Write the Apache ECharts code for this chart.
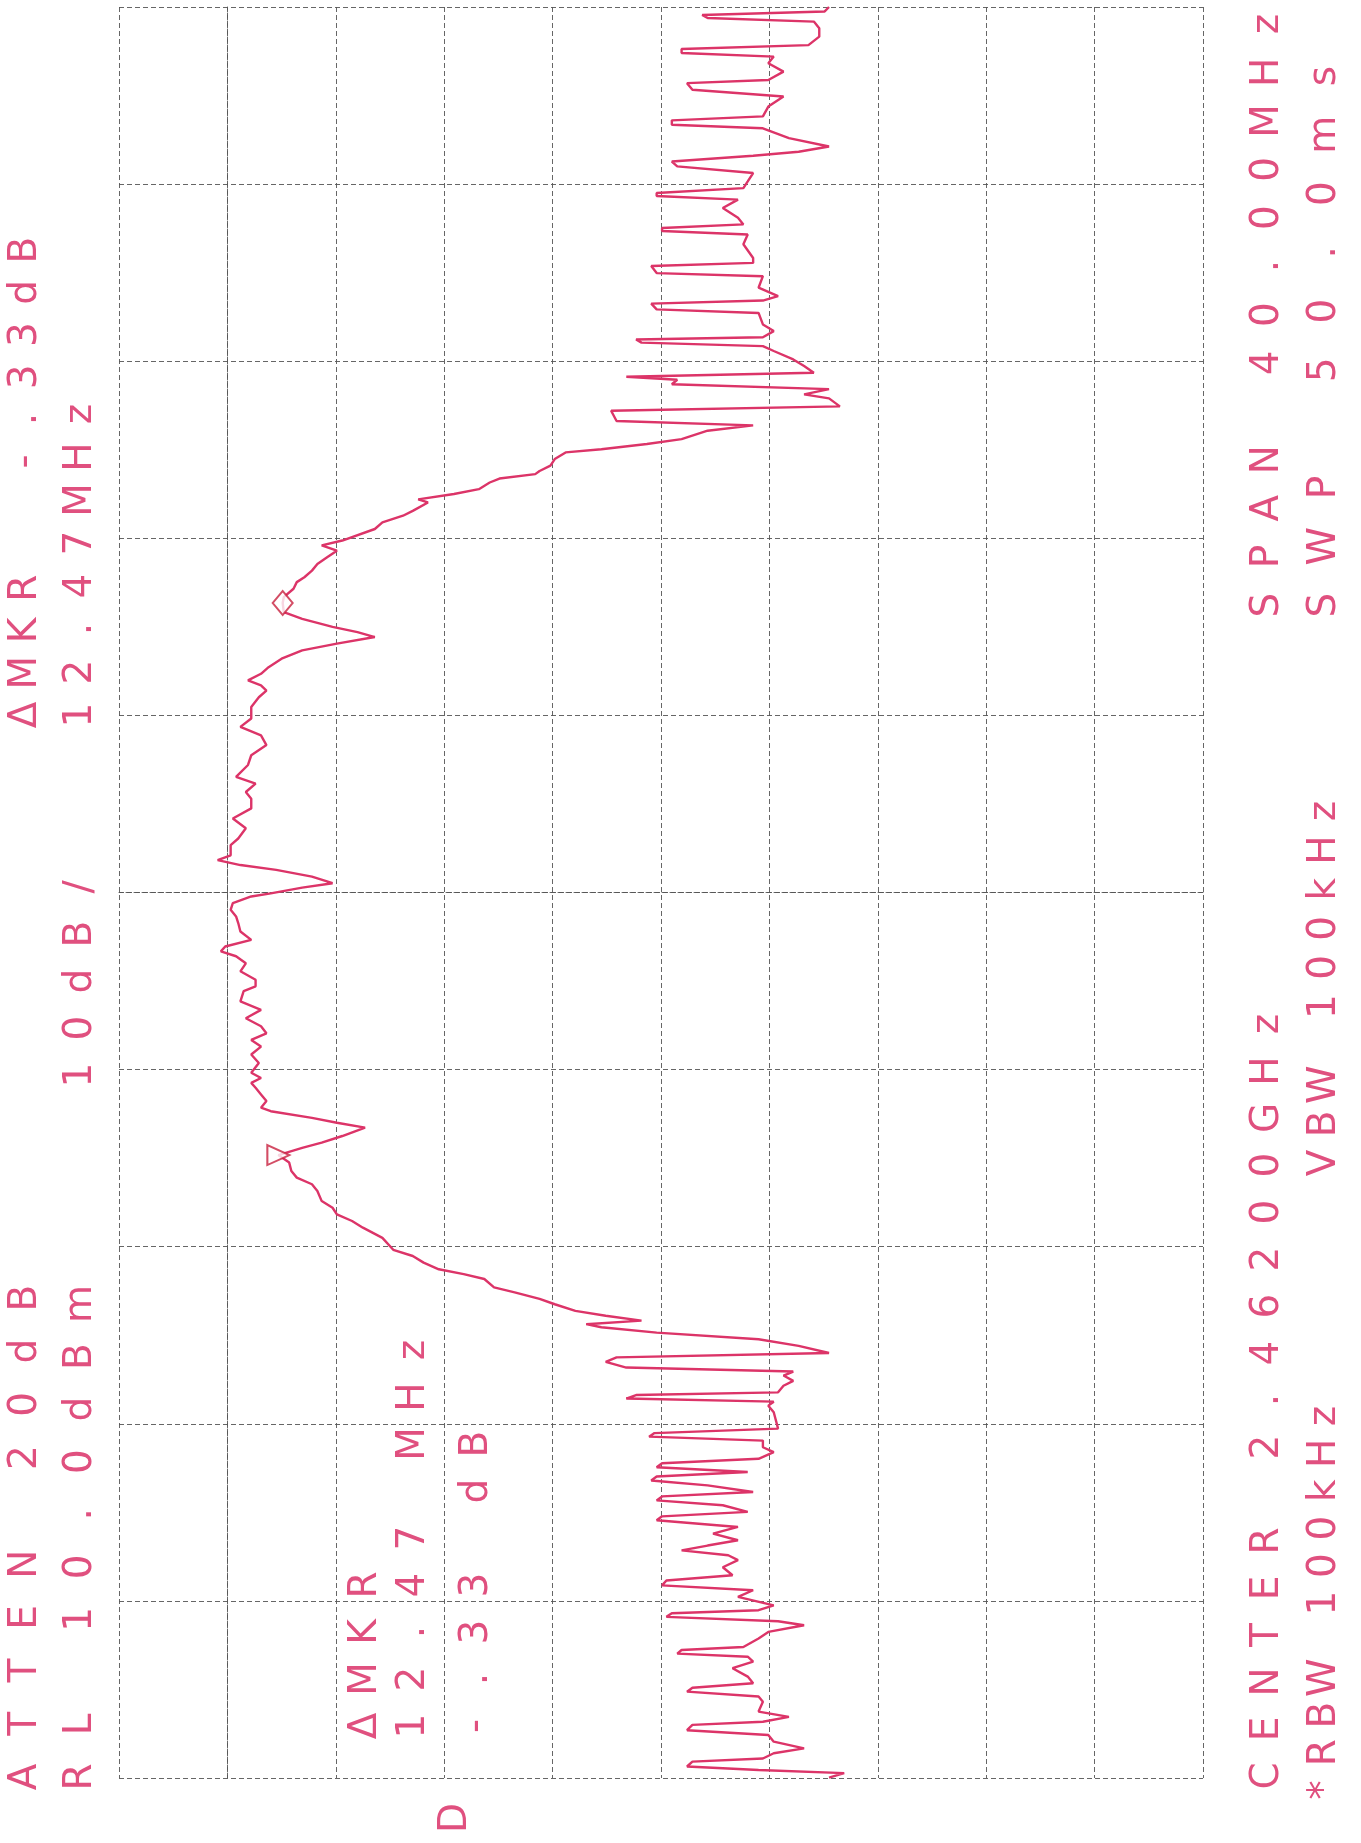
<!DOCTYPE html>
<html>
<head>
<meta charset="utf-8">
<title>Spectrum plot</title>
<script src="https://cdn.jsdelivr.net/npm/echarts@6/dist/echarts.min.js"></script>
<style>
html, body { margin: 0; padding: 0; background: #fff; }
#main { width: 1361px; height: 1843px; }
</style>
</head>
<body>
<div id="main"></div>
<script>
// frequency (MHz) and level (dBm) of the plotted trace, low to high frequency
var freqMHz = [
  2442.01, 2442.11, 2442.18, 2442.26, 2442.37, 2442.44, 2442.56, 2442.67, 2442.82, 2442.97,
  2443.08, 2443.20, 2443.27, 2443.38, 2443.50, 2443.72, 2443.84, 2443.95, 2444.04, 2444.14,
  2444.29, 2444.48, 2444.63, 2444.74, 2444.81, 2444.89, 2444.96, 2445.15, 2445.30, 2445.45,
  2445.54, 2445.64, 2445.72, 2445.79, 2445.90,
  2446.09, 2446.24, 2446.35, 2446.46, 2446.58, 2446.76, 2446.92, 2447.03, 2447.14, 2447.25,
  2447.37, 2447.52, 2447.67, 2447.82, 2447.91, 2448.01, 2448.16, 2448.27, 2448.36, 2448.46,
  2448.61, 2448.72, 2448.81, 2448.91, 2449.02, 2449.11, 2449.21, 2449.36, 2449.47, 2449.62,
  2449.71, 2449.79, 2449.89,
  2450.26, 2450.41, 2450.50, 2450.57, 2450.65, 2450.71, 2450.86, 2450.97, 2451.09, 2451.18,
  2451.27, 2451.40, 2451.50, 2451.60, 2451.76, 2451.91, 2452.06, 2452.18, 2452.25, 2452.33,
  2452.44, 2452.55, 2452.70, 2452.82, 2452.97, 2453.08, 2453.27, 2453.38, 2453.49, 2453.64,
  2453.79, 2453.93,
  2454.20, 2454.43, 2454.58, 2454.73, 2454.88, 2455.03, 2455.26, 2455.41, 2455.56, 2455.71,
  2455.90, 2456.07, 2456.23, 2456.35, 2456.50, 2456.69, 2456.80, 2456.91, 2457.06, 2457.14,
  2457.29, 2457.44, 2457.59, 2457.70, 2457.81, 2457.93,
  2458.15, 2458.34, 2458.52, 2458.67, 2458.82, 2458.98, 2459.16, 2459.35, 2459.54, 2459.77,
  2459.88, 2460.03, 2460.22, 2460.40, 2460.56, 2460.67, 2460.78, 2460.93, 2461.12, 2461.31,
  2461.46, 2461.61, 2461.76, 2461.91, 2461.98,
  2462.11, 2462.21, 2462.36, 2462.51, 2462.62, 2462.73, 2462.84, 2463.07, 2463.22, 2463.45,
  2463.67, 2463.90, 2464.12, 2464.27, 2464.46, 2464.61, 2464.88, 2465.10, 2465.33, 2465.55,
  2465.74, 2465.93,
  2466.19, 2466.41, 2466.56, 2466.68, 2466.79, 2466.94, 2467.09, 2467.28, 2467.47, 2467.62,
  2467.77, 2467.88, 2468.00, 2468.18, 2468.33, 2468.54, 2468.67, 2468.86, 2469.01, 2469.12,
  2469.27, 2469.42, 2469.57, 2469.72, 2469.84, 2469.95,
  2470.21, 2470.36, 2470.51, 2470.62, 2470.81, 2470.88, 2471.00, 2471.11, 2471.26, 2471.35,
  2471.45, 2471.52, 2471.64, 2471.79, 2471.94, 2472.01, 2472.13, 2472.24, 2472.43, 2472.55,
  2472.65, 2472.88, 2472.98, 2473.16, 2473.25, 2473.37, 2473.48, 2473.58, 2473.65, 2473.74,
  2473.89, 2474.04,
  2474.23, 2474.34, 2474.42, 2474.49, 2474.54, 2474.68, 2474.83, 2475.09, 2475.17, 2475.30,
  2475.37, 2475.47, 2475.66, 2475.92, 2475.99, 2476.15, 2476.22, 2476.33, 2476.64, 2476.86,
  2476.94, 2477.01, 2477.09, 2477.24, 2477.46, 2477.65, 2477.73, 2477.80, 2477.91, 2478.06,
  2478.25, 2478.40, 2478.51, 2478.64, 2478.73, 2478.85, 2479.04, 2479.26, 2479.34, 2479.44,
  2479.53, 2479.75, 2479.98, 2480.13, 2480.28, 2480.35, 2480.54, 2480.73, 2480.88, 2480.96,
  2481.05, 2481.14, 2481.33, 2481.52, 2481.67, 2481.75, 2481.82, 2481.90, 2482.00
];
var levelDBm = [
  -55.5, -56.9, -49.0, -42.4, -42.9, -49.4, -50.4, -53.2, -50.4, -49.9,
  -42.4, -42.9, -49.4, -51.8, -49.0, -49.4, -49.0, -42.4, -42.9, -48.5,
  -48.0, -46.6, -48.5, -48.0, -41.5, -41.9, -47.6, -49.0, -49.9, -53.2,
  -50.8, -40.5, -41.0, -49.0, -50.4,
  -47.1, -48.5, -40.1, -40.5, -46.6, -45.7, -47.1, -46.2, -41.9, -44.3,
  -47.1, -44.8, -47.1, -39.6, -40.1, -48.0, -45.7, -39.6, -40.1, -48.5,
  -44.3, -39.1, -39.6, -48.0, -39.6, -40.1, -49.0, -50.4, -49.4, -49.4,
  -38.9, -39.4, -50.8,
  -50.4, -49.9, -50.4, -36.8, -37.7, -50.8, -51.3, -52.2, -51.3, -52.2,
  -36.8, -34.9, -35.9, -55.5, -52.7, -49.0, -39.6, -34.5, -33.1, -38.2,
  -34.9, -32.1, -30.2, -28.8, -26.5, -24.6, -23.7, -21.8, -19.5, -18.1,
  -17.1, -15.3,
  -14.3, -12.5, -11.5, -10.1, -9.7, -8.7, -8.3, -7.8, -6.4, -5.9,
  -5.7, -4.7, -6.9, -8.7, -10.6, -12.7, -10.1, -7.8, -4.0, -3.1,
  -3.6, -3.1, -2.6, -2.2, -3.1, -2.2,
  -2.9, -2.2, -3.1, -2.2, -3.6, -3.1, -1.7, -3.1, -1.2, -1.5,
  -2.6, -2.6, -1.2, -1.7, -0.8, 0.6, 0.2, -2.2, -1.2, -1.0,
  -0.8, -0.3, -0.5, -2.2, -4.0,
  -6.9, -9.7, -7.8, -4.5, -1.2, 0.9, -0.3, -0.3, -1.0, -1.7,
  -0.5, -2.2, -2.2, -1.7, -2.6, -0.8, -1.9, -2.2, -3.6, -3.1,
  -1.2, -2.2,
  -2.2, -2.9, -3.6, -3.1, -1.9, -3.1, -3.8, -5.0, -6.9, -10.1,
  -13.6, -12.0, -9.7, -6.9, -5.2, -5.1, -5.2, -6.1, -6.4, -7.1,
  -7.8, -8.3, -9.2, -10.1, -8.7, -10.6,
  -13.6, -14.3, -16.2, -17.1, -18.5, -17.6, -20.9, -23.2, -24.2, -25.1,
  -28.4, -28.8, -29.8, -30.2, -31.2, -34.5, -38.7, -41.9, -44.3, -48.5,
  -35.9, -35.4, -56.5, -55.5, -53.2, -55.5, -41.0, -41.5, -36.8, -54.1,
  -53.2, -52.2,
  -50.4, -49.4, -38.2, -37.7, -49.4, -50.4, -49.4, -49.0, -39.6, -39.1,
  -49.4, -50.8, -49.0, -49.4, -39.6, -39.1, -48.5, -48.5, -47.6, -48.0,
  -40.1, -40.1, -47.6, -47.1, -45.7, -47.1, -39.6, -39.6, -47.6, -48.0,
  -48.5, -41.5, -41.0, -48.5, -52.7, -55.5, -51.8, -49.4, -41.0, -41.0,
  -49.4, -49.9, -51.3, -42.9, -42.4, -49.9, -51.3, -49.9, -50.4, -41.9,
  -41.9, -53.6, -54.6, -54.6, -54.1, -44.3, -43.8, -55.1, -55.5
];

// markers: reference (triangle) and delta (diamond)
var markerFreq = [2456.07, 2468.54];
var markerLevel = [-4.7, -5.1];

var centerMHz = 2462;
var spanMHz = 40;
var refLevel = 10;
var dbPerDiv = 10;

// annotation lines: text, column x, centre of first char, centre of last char
var labels = [
  ['ATTEN 20dB', 26, 1777, 1298],
  ['RL 10.0dBm', 81, 1777, 1304],
  ['10dB/', 81, 1075, 887],
  ['\u0394MKR  -.33dB', 26, 715, 250],
  ['12.47MHz', 81, 715, 414],
  ['CENTER 2.46200GHz', 1268, 1776, 1024],
  ['*RBW 100kHz', 1325, 1790, 1416],
  ['VBW 100kHz', 1325, 1163, 811],
  ['SPAN 40.00MHz', 1268, 605, 24],
  ['SWP 50.0ms', 1325, 605, 76],
  ['\u0394MKR', 366, 1726, 1585],
  ['12.47 MHz', 414, 1726, 1350],
  ['-.33 dB', 477, 1726, 1444],
  ['D', 456, 1818, 1818]
];

var traceColor = '#dc3468';
var textColor = '#e0507f';

function plotLabel(item) {
  var str = item[0];
  var n = str.length;
  var pitch = n > 1 ? (item[2] - item[3]) / (n - 1) : 0;
  var els = [];
  for (var i = 0; i < n; i++) {
    if (str[i] === ' ') continue;
    els.push({
      type: 'text',
      x: item[1],
      y: item[2] - i * pitch,
      rotation: Math.PI / 2,
      silent: true,
      style: {
        text: str[i],
        fill: textColor,
        font: '39px "DejaVu Sans"',
        align: 'center',
        verticalAlign: 'middle'
      }
    });
  }
  return els;
}

var traceData = freqMHz.map(function (f, i) {
  return [levelDBm[i], f - centerMHz];
});
var markerData = markerFreq.map(function (f, i) {
  return [markerLevel[i], f - centerMHz];
});

var graphics = [];
labels.forEach(function (l) { graphics = graphics.concat(plotLabel(l)); });

var gridLine = { color: '#555', width: 1, type: [5, 3], opacity: 0.9 };

var chart = echarts.init(document.getElementById('main'));
chart.setOption({
  animation: false,
  backgroundColor: '#ffffff',
  grid: { left: 119, right: 158, top: 7, bottom: 65, show: false },
  xAxis: {
    type: 'value',
    inverse: true,
    min: refLevel - 10 * dbPerDiv,
    max: refLevel,
    interval: dbPerDiv,
    axisLine: { show: true, lineStyle: gridLine },
    axisTick: { show: false },
    axisLabel: { show: false },
    splitLine: { show: true, lineStyle: gridLine }
  },
  yAxis: {
    type: 'value',
    min: -spanMHz / 2,
    max: spanMHz / 2,
    interval: spanMHz / 10,
    axisLine: { show: true, lineStyle: gridLine },
    axisTick: { show: false },
    axisLabel: { show: false },
    splitLine: { show: true, lineStyle: gridLine }
  },
  series: [
    {
      type: 'line',
      data: traceData,
      showSymbol: false,
      smooth: false,
      lineStyle: { color: traceColor, width: 2.4 },
      z: 3
    },
    {
      type: 'scatter',
      data: markerData,
      symbol: function (v, p) { return p.dataIndex === 0 ? 'emptyTriangle' : 'emptyDiamond'; },
      symbolSize: function (v, p) { return p.dataIndex === 0 ? [20, 22] : [20, 24]; },
      symbolRotate: function (v, p) { return p.dataIndex === 0 ? -90 : 0; },
      itemStyle: { color: '#c8203e', borderColor: '#c8203e', borderWidth: 3 },
      z: 4
    }
  ],
  graphic: graphics
});
</script>
</body>
</html>
